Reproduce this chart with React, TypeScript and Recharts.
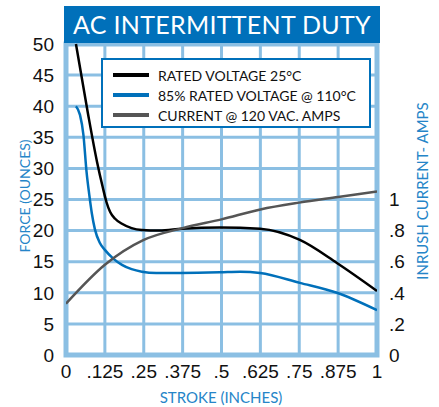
import React from 'react'
import {
  LineChart,
  Line,
  XAxis,
  YAxis,
  CartesianGrid,
  ReferenceArea,
} from 'recharts'

// stroke positions (inches) and readings for each curve
const ratedStroke = [0.032, 0.07, 0.1, 0.118, 0.13, 0.142, 0.158, 0.18, 0.211, 0.244, 0.3, 0.373, 0.495, 0.624, 0.752, 0.871, 1]
const ratedForce = [50, 39, 31, 27, 24.6, 23, 21.9, 21.1, 20.4, 20.1, 20, 20.3, 20.5, 20.3, 18.5, 14.8, 10.3]

const hotStroke = [0.032, 0.045, 0.056, 0.066, 0.075, 0.083, 0.093, 0.109, 0.125, 0.152, 0.18, 0.211, 0.244, 0.29, 0.367, 0.495, 0.56, 0.624, 0.752, 0.871, 1]
const hotForce = [40, 38.6, 35.4, 29.5, 25.7, 22.8, 20.2, 18, 16.9, 15.5, 14.5, 13.8, 13.4, 13.2, 13.2, 13.3, 13.4, 13.2, 11.6, 10, 7.2]

const currentStroke = [0, 0.125, 0.25, 0.375, 0.5, 0.625, 0.75, 0.875, 1]
const currentAmps = [0.33, 0.58, 0.74, 0.816, 0.872, 0.936, 0.98, 1.016, 1.052]

const strokeTicks = [0, 0.125, 0.25, 0.375, 0.5, 0.625, 0.75, 0.875, 1]
const forceTicks = [0, 5, 10, 15, 20, 25, 30, 35, 40, 45, 50]
const ampTicks = [0, 0.2, 0.4, 0.6, 0.8, 1]

const seriesNames = ['RATED VOLTAGE 25°C', '85% RATED VOLTAGE @ 110°C', 'CURRENT @ 120 VAC. AMPS']
const seriesColors = ['#000000', '#0070BA', '#555555']

const zip = (xs: number[], ys: number[]) => xs.map((x, i) => ({ x, y: ys[i] }))

const ratedData = zip(ratedStroke, ratedForce)
const hotData = zip(hotStroke, hotForce)
const currentData = zip(currentStroke, currentAmps)

const BLUE = '#0070BA'
const GRID = '#8BBFE3'
const LABEL = '#2585C8'
const FONT = 'Lato, "Open Sans", sans-serif'
const TICK = { fill: '#111', fontSize: 19, fontFamily: '"Liberation Sans", Arial, sans-serif' }

const dec = (v: number) => (v === 0 ? '0' : v === 1 ? '1' : String(v).replace(/^0\./, '.'))

export default function App() {
  return (
    <div style={{ position: 'absolute', left: 0, top: 0, width: 439, height: 407, background: '#fff' }}>
      <LineChart width={439} height={407} margin={{ top: 44, right: 0, bottom: 0, left: 0 }}>
        <CartesianGrid stroke={GRID} strokeWidth={3} yAxisId="force" />
        <XAxis
          type="number"
          dataKey="x"
          domain={[0, 1]}
          ticks={strokeTicks}
          interval={0}
          tickFormatter={dec}
          axisLine={false}
          tickLine={false}
          tickMargin={4}
          height={52}
          tick={TICK}
          allowDataOverflow
        />
        <YAxis
          yAxisId="force"
          domain={[0, 50]}
          ticks={forceTicks}
          interval={0}
          axisLine={false}
          tickLine={false}
          tickMargin={6}
          width={66}
          tick={TICK}
        />
        <YAxis
          yAxisId="amps"
          orientation="right"
          domain={[0, 2]}
          ticks={ampTicks}
          interval={0}
          tickFormatter={dec}
          axisLine={false}
          tickLine={false}
          tickMargin={6}
          width={62}
          tick={TICK}
        />
        <ReferenceArea
          yAxisId="force"
          x1={0}
          x2={1}
          y1={0}
          y2={50}
          fill="none"
          stroke={GRID}
          strokeWidth={5}
          ifOverflow="visible"
        />
        <Line
          yAxisId="force"
          data={ratedData}
          dataKey="y"
          name={seriesNames[0]}
          type="monotone"
          stroke={seriesColors[0]}
          strokeWidth={2.5}
          dot={false}
          isAnimationActive={false}
        />
        <Line
          yAxisId="force"
          data={hotData}
          dataKey="y"
          name={seriesNames[1]}
          type="monotone"
          stroke={seriesColors[1]}
          strokeWidth={2.5}
          dot={false}
          isAnimationActive={false}
        />
        <Line
          yAxisId="amps"
          data={currentData}
          dataKey="y"
          name={seriesNames[2]}
          type="monotone"
          stroke={seriesColors[2]}
          strokeWidth={2.5}
          dot={false}
          isAnimationActive={false}
        />
      </LineChart>

      {/* legend box */}
      <div
        style={{
          position: 'absolute',
          left: 101,
          top: 58,
          width: 270,
          height: 70,
          border: `2.5px solid ${BLUE}`,
          background: '#fff',
          boxSizing: 'border-box',
          padding: '5px 0 0 10px',
          fontFamily: FONT,
          fontSize: 14,
          color: '#111',
        }}
      >
        {seriesNames.map((name, i) => (
          <div key={name} style={{ display: 'flex', alignItems: 'center', height: 20 }}>
            <span style={{ display: 'inline-block', width: 36, height: 4, background: seriesColors[i], marginRight: 9 }} />
            <span>{name}</span>
          </div>
        ))}
      </div>

      <div
        style={{
          position: 'absolute',
          left: 64,
          top: 6,
          width: 316,
          height: 37,
          background: BLUE,
          color: '#fff',
          fontFamily: FONT,
          fontSize: 25,
          lineHeight: '37px',
          textAlign: 'center',
          letterSpacing: 0.3,
        }}
      >
        AC INTERMITTENT DUTY
      </div>
      <div
        style={{
          position: 'absolute',
          left: 24,
          top: 196,
          transform: 'translate(-50%, -50%) rotate(-90deg)',
          whiteSpace: 'nowrap',
          color: LABEL,
          fontFamily: FONT,
          fontSize: 14,
        }}
      >
        FORCE (OUNCES)
      </div>
      <div
        style={{
          position: 'absolute',
          left: 422,
          top: 191,
          transform: 'translate(-50%, -50%) rotate(-90deg)',
          whiteSpace: 'nowrap',
          color: LABEL,
          fontFamily: FONT,
          fontSize: 15,
        }}
      >
        INRUSH CURRENT- AMPS
      </div>
      <div
        style={{
          position: 'absolute',
          left: 221,
          top: 397,
          transform: 'translate(-50%, -50%)',
          whiteSpace: 'nowrap',
          color: LABEL,
          fontFamily: FONT,
          fontSize: 15,
        }}
      >
        STROKE (INCHES)
      </div>
    </div>
  )
}
